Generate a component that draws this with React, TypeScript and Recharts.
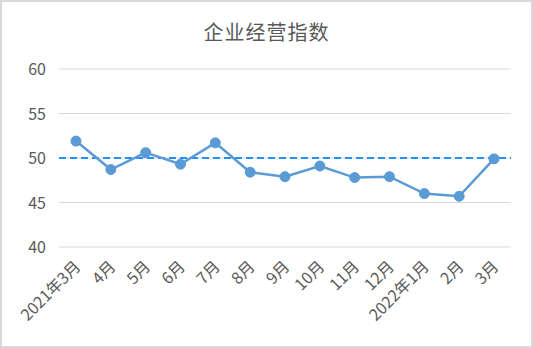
import { LineChart, Line, XAxis, YAxis, CartesianGrid, ReferenceLine } from "recharts";

const months = [
  "2021年3月", "4月", "5月", "6月", "7月", "8月", "9月",
  "10月", "11月", "12月", "2022年1月", "2月", "3月",
];
const indexValues = [51.9, 48.7, 50.6, 49.3, 51.7, 48.4, 47.9, 49.1, 47.8, 47.9, 46.0, 45.7, 49.9];
const yTicks = [40, 45, 50, 55, 60];
const baseline = 50;

const FONT = "'Noto Sans CJK SC', 'Noto Sans', sans-serif";

const AngledTick = ({ x, y, payload }: any) => (
  <g transform={`translate(${x},${y + 7})`}>
    <text
      x={0}
      y={0}
      dy={8}
      textAnchor="end"
      fill="#595959"
      fontSize={16}
      fontFamily={FONT}
      transform="rotate(-45)"
    >
      {payload.value}
    </text>
  </g>
);

const ValueTick = ({ y, payload }: any) => (
  <text
    x={44}
    y={y}
    dy={6}
    textAnchor="end"
    fill="#595959"
    fontSize={16}
    fontFamily={FONT}
  >
    {payload.value}
  </text>
);

export default function App() {
  const data = months.map((m, i) => ({ month: m, value: indexValues[i] }));

  return (
    <div
      style={{
        position: "fixed",
        left: 0,
        top: 0,
        width: 533,
        height: 348,
        boxSizing: "border-box",
        border: "2px solid #d9d9d9",
        background: "#fff",
        fontFamily: FONT,
      }}
    >
      <div
        style={{
          position: "absolute",
          left: 0,
          right: 0,
          top: 15,
          textAlign: "center",
          fontSize: 20,
          color: "#595959",
          letterSpacing: 1,
        }}
      >
        企业经营指数
      </div>
      <LineChart
        width={529}
        height={344}
        data={data}
        margin={{ top: 67, right: 20, left: 7, bottom: 0 }}
        style={{ position: "absolute", left: 0, top: 0 }}
      >
        <CartesianGrid vertical={false} stroke="#d9d9d9" strokeWidth={1.2} />
        <XAxis
          dataKey="month"
          axisLine={false}
          tickLine={false}
          interval={0}
          height={99}
          padding={{ left: 17, right: 17 }}
          tick={<AngledTick />}
        />
        <YAxis
          domain={[40, 60]}
          ticks={yTicks}
          axisLine={false}
          tickLine={false}
          width={50}
          tick={<ValueTick />}
        />
        <ReferenceLine
          y={baseline}
          stroke="#1E90FF"
          strokeWidth={2}
          strokeDasharray="7 4"
        />
        <Line
          type="linear"
          dataKey="value"
          stroke="#5B9BD5"
          strokeWidth={2.5}
          dot={{ r: 5, fill: "#5B9BD5", stroke: "#5B9BD5", strokeWidth: 1 }}
          isAnimationActive={false}
        />
      </LineChart>
    </div>
  );
}
